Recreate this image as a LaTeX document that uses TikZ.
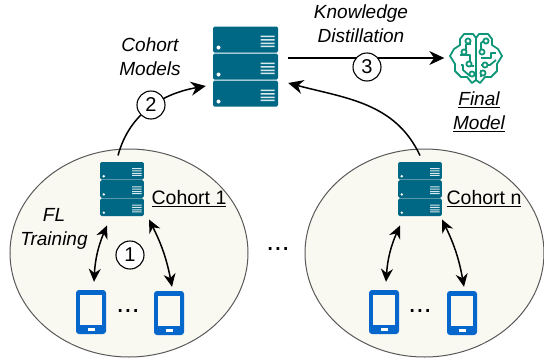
\documentclass[tikz,border=0pt]{standalone}
\usepackage{xcolor}
\usepackage{fontspec}
\setmainfont{Liberation Sans}
\usetikzlibrary{arrows.meta,shapes.geometric}
\definecolor{rackteal}{RGB}{0, 104, 133}
\definecolor{phoneblue}{RGB}{5, 102, 204}
\definecolor{braingreen}{RGB}{15, 150, 120}
\definecolor{cohortfill}{RGB}{249, 248, 241}

\tikzset{
  x=1pt, y=-1pt,
  lbl/.style={font=\fontsize{19.5}{23}\selectfont, inner sep=0pt, align=center},
  lblit/.style={lbl, font=\fontsize{19}{24}\selectfont\itshape},
  dotsep/.style={font=\fontsize{28}{28}\selectfont, inner sep=0pt},
  cohort/.style={draw=black!65, line width=1pt, fill=cohortfill, ellipse, inner sep=0pt},
  stepnum/.style={circle, draw=black, line width=1.1pt, fill=white, minimum size=28pt, inner sep=0pt, font=\fontsize{20}{20}\selectfont},
  flow/.style={-{Stealth[length=15pt,width=14pt]}, line width=1.5pt},
  link/.style={{Stealth[length=13pt,width=12pt]}-{Stealth[length=13pt,width=12pt]}, line width=1.5pt},
  rack/.pic={
    \fill[rackteal, rounded corners=1.5pt] (-32.5,-13) rectangle (32.5,13);
    \fill[white] (-27,8) circle (2pt);
    \fill[white!85!rackteal] (15,-4) rectangle (29,-2.5) (15,-0.5) rectangle (29,1) (15,3) rectangle (29,4.5) (15,6) rectangle (29,7.5);
  },
  serverstack/.pic={
    \node[inner sep=0pt, minimum width=65pt, minimum height=81pt, transform shape] (-box) at (0,0) {};
    \pic[transform shape] at (0,-27) {rack};
    \pic[transform shape] at (0,0) {rack};
    \pic[transform shape] at (0,27) {rack};
  },
  phone/.pic={
    \node[inner sep=0pt, minimum width=30pt, minimum height=44pt] (-box) at (0,0) {};
    \fill[phoneblue, rounded corners=3pt] (-15,-22) rectangle (15,22);
    \fill[cohortfill] (-11,-17) rectangle (11,13);
    \fill[white] (-3.5,16) rectangle (3.5,18.5);
  },
}

\begin{document}
\begin{tikzpicture}
\useasboundingbox (0,0) rectangle (544,362);

% cohorts
\node[cohort, minimum width=238pt, minimum height=208pt] (cohortA) at (129,253) {};
\node[cohort, minimum width=239pt, minimum height=208pt] (cohortB) at (424.5,253) {};

% servers
\pic (srvtop) at (245.5,66.5) {serverstack};
\pic[scale=0.675] (srvA) at (122,189) {serverstack};
\pic[scale=0.675] (srvB) at (420,189) {serverstack};

% devices
\pic (devA) at (91,312) {phone};
\pic (devB) at (169,313) {phone};
\pic (devC) at (384,312) {phone};
\pic (devD) at (462,313) {phone};

% final model
\node[inner sep=0pt, minimum width=53pt, minimum height=52pt] (brain) at (476,58) {};
\begin{scope}[shift={(476,58)}, braingreen, line width=1.8pt, line join=round]
  \draw (0,-20) -- (-3,-24) -- (-12,-24) -- (-16,-19) -- (-16,-13) -- (-22,-9) -- (-26,-2) -- (-21,6) -- (-21,13) -- (-15,19) -- (-9,19) -- (-4,25) -- (0,22) -- (4,25) -- (9,19) -- (15,19) -- (21,13) -- (21,6) -- (26,-2) -- (22,-9) -- (16,-13) -- (16,-19) -- (12,-24) -- (3,-24) -- cycle;
  \draw (0,-20) -- (0,22);
  \draw (-10,-14) -- (-10,-6) (-10,-14) -- (-5,-14);
  \draw (-16,-3) -- (-6,-3) -- (-6,3);
  \draw (-15,7) -- (-13,7) -- (-13,12) -- (-6,18);
  \draw (-7,8) -- (-2,8);
  \draw (9,-18) -- (5,-15) -- (5,-8);
  \draw (5,0) -- (15,0) -- (15,-5) -- (20,-5);
  \draw (5,7) -- (14,7) -- (20,2);
  \draw (5,19) -- (5,12);
  \foreach \cx/\cy in {-8/-17,-12/-6,-7/6,-4/16,10/-17,6/-6,9/7,7/15}
    \draw[fill=white] (\cx,\cy) circle (2.6pt);
\end{scope}

% connectors
\draw[flow] ([xshift=-4pt,yshift=6pt]srvA-box.north) to[out=75,in=190] ([xshift=-7pt,yshift=-19.5pt]srvtop-box.west);
\draw[flow] ([yshift=6pt]srvB-box.north) to[out=115,in=-15] ([xshift=10pt,yshift=-16.5pt]srvtop-box.east);
\draw[flow] ([xshift=10pt,yshift=8.5pt]srvtop-box.east) -- ([xshift=-5pt]brain.west);

\draw[link] ([xshift=-15pt,yshift=-9pt]srvA-box.south) to[bend right=10] ([xshift=3pt,yshift=8pt]devA-box.north);
\draw[link] ([xshift=27pt,yshift=-3pt]srvA-box.south) to[bend left=8] ([xshift=3pt,yshift=4pt]devB-box.north);
\draw[link] ([xshift=-20pt,yshift=-9pt]srvB-box.south) to[bend right=10] ([xshift=2pt,yshift=8pt]devC-box.north);
\draw[link] ([xshift=22pt,yshift=-3pt]srvB-box.south) to[bend left=8] ([xshift=2pt,yshift=4pt]devD-box.north);

% steps
\node[stepnum] (stepA) at (130,255) {1};
\node[stepnum] (stepB) at (151,105) {2};
\node[stepnum] (stepC) at (367,67) {3};

% labels
\node[lblit] (lblmodels) at (150,57) {Cohort\\Models};
\node[lblit] (lblkd) at (361,24) {Knowledge\\Distillation};
\node[lblit] (lblfl) at (54,229) {FL\\Training};
\node[lblit] (lblfinal) at (479,112) {\underline{Final}\\\underline{Model}};
\node[lbl] (lblA) at (189,199) {\underline{Cohort 1}};
\node[lbl] (lblB) at (484,199) {\underline{Cohort n}};

% dots
\node[dotsep] (dotsA) at (128,311) {...};
\node[dotsep] (dotsB) at (420,311) {...};
\node[dotsep] (dotsC) at (278,249) {...};
\end{tikzpicture}
\end{document}
